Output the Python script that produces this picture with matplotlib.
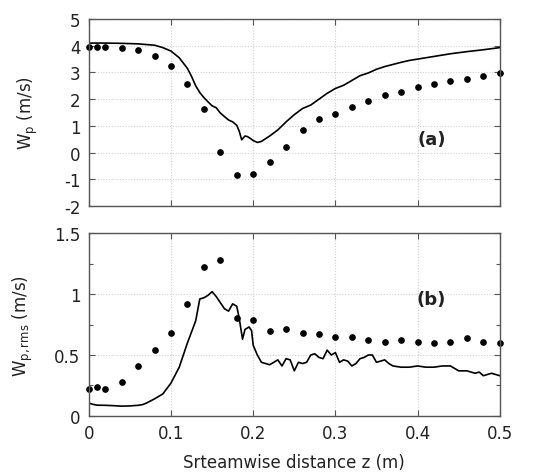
import matplotlib
matplotlib.use("Agg")
import matplotlib.pyplot as plt
from matplotlib.ticker import MultipleLocator

# ---- data (a) ----
za_pts = [0.0, 0.01, 0.02, 0.04, 0.06, 0.08, 0.10, 0.12, 0.14, 0.16, 0.18, 0.20, 0.22, 0.24,
          0.26, 0.28, 0.30, 0.32, 0.34, 0.36, 0.38, 0.40, 0.42, 0.44, 0.46, 0.48, 0.50]
wa_pts = [3.96, 3.96, 3.96, 3.90, 3.84, 3.63, 3.25, 2.55, 1.65, 0.01, -0.84, -0.79, -0.34, 0.22,
          0.84, 1.27, 1.45, 1.69, 1.92, 2.15, 2.26, 2.47, 2.58, 2.67, 2.75, 2.86, 2.99]
za_line = [0.0, 0.02, 0.04, 0.06, 0.08, 0.09, 0.10, 0.11, 0.12, 0.125, 0.13, 0.135, 0.14, 0.145,
           0.15, 0.155, 0.16, 0.165, 0.17, 0.175, 0.18, 0.183, 0.186, 0.19, 0.193, 0.197, 0.20,
           0.205, 0.21, 0.215, 0.22, 0.23, 0.24, 0.25, 0.26, 0.27, 0.28, 0.29, 0.30, 0.31,
           0.32, 0.33, 0.34, 0.35, 0.36, 0.37, 0.38, 0.39, 0.40, 0.42, 0.44, 0.46, 0.48, 0.50]
wa_line = [4.10, 4.10, 4.09, 4.07, 4.02, 3.93, 3.80, 3.55, 3.15, 2.85, 2.50, 2.25, 2.06, 1.90,
           1.75, 1.68, 1.48, 1.35, 1.22, 1.15, 1.02, 0.80, 0.48, 0.62, 0.60, 0.52, 0.45,
           0.38, 0.42, 0.52, 0.62, 0.85, 1.15, 1.42, 1.65, 1.78, 2.00, 2.22, 2.40, 2.52,
           2.70, 2.88, 2.98, 3.12, 3.22, 3.30, 3.38, 3.45, 3.50, 3.60, 3.70, 3.78, 3.85, 3.93]

# ---- data (b) ----
zb_pts = za_pts
wb_pts = [0.22, 0.24, 0.22, 0.28, 0.41, 0.54, 0.68, 0.92, 1.22, 1.28, 0.80, 0.79, 0.70, 0.71,
          0.68, 0.67, 0.65, 0.65, 0.62, 0.61, 0.62, 0.61, 0.60, 0.61, 0.64, 0.61, 0.60]
zb_line = [0.0, 0.005, 0.01, 0.02, 0.03, 0.04, 0.05, 0.06, 0.065, 0.07, 0.08, 0.09, 0.10, 0.11,
           0.12, 0.13, 0.135, 0.14, 0.145, 0.15, 0.155, 0.16, 0.165, 0.17, 0.175, 0.18, 0.183,
           0.187, 0.19, 0.195, 0.198, 0.20, 0.205, 0.21, 0.215, 0.22, 0.225, 0.23, 0.235, 0.24,
           0.245, 0.25, 0.255, 0.26, 0.265, 0.27, 0.275, 0.28, 0.285, 0.29, 0.295, 0.30, 0.305,
           0.31, 0.315, 0.32, 0.325, 0.33, 0.335, 0.34, 0.345, 0.35, 0.355, 0.36, 0.365, 0.37,
           0.38, 0.39, 0.40, 0.41, 0.42, 0.43, 0.44, 0.45, 0.46, 0.47, 0.475, 0.48, 0.49, 0.50]
wb_line = [0.105, 0.095, 0.088, 0.087, 0.084, 0.080, 0.082, 0.087, 0.092, 0.105, 0.14, 0.18, 0.27, 0.40,
           0.60, 0.78, 0.96, 0.97, 0.99, 1.02, 0.98, 0.93, 0.88, 0.86, 0.92, 0.90, 0.80,
           0.63, 0.71, 0.73, 0.70, 0.58, 0.50, 0.44, 0.43, 0.42, 0.44, 0.46, 0.41, 0.47,
           0.46, 0.37, 0.44, 0.43, 0.44, 0.50, 0.51, 0.48, 0.47, 0.54, 0.50, 0.52, 0.44,
           0.46, 0.45, 0.41, 0.43, 0.47, 0.48, 0.50, 0.50, 0.44, 0.45, 0.46, 0.43, 0.41,
           0.40, 0.40, 0.41, 0.40, 0.40, 0.41, 0.41, 0.37, 0.37, 0.35, 0.36, 0.33, 0.35, 0.33]

plt.rcParams['font.family'] = ['DejaVu Sans']
plt.rcParams['axes.unicode_minus'] = False
txt = '#222222'
fig = plt.figure(figsize=(5.45, 4.77), dpi=100)
ax1 = fig.add_axes([0.163, 0.566, 0.754, 0.392])
ax2 = fig.add_axes([0.163, 0.126, 0.754, 0.383])

for ax in (ax1, ax2):
    ax.set_xlim(0, 0.5)
    ax.xaxis.set_major_locator(MultipleLocator(0.1))
    ax.grid(True, which='major', linestyle=(0, (1, 1.5)), color='#cfcfcf', linewidth=0.8)
    ax.tick_params(direction='in', top=True, right=True, length=4, width=0.8,
                   colors='#555555', labelcolor=txt, labelsize=12, pad=6)
    ax.tick_params(which='minor', direction='in', right=True, length=3, width=0.8, colors='#555555')
    for s in ax.spines.values():
        s.set_color('#555555')
        s.set_linewidth(1.0)

ax1.plot(za_line, wa_line, color='black', linewidth=1.2)
ax1.plot(za_pts, wa_pts, 'o', color='black', markersize=3.8, clip_on=False)
ax1.set_ylim(-2, 5)
ax1.yaxis.set_major_locator(MultipleLocator(1))
ax1.set_xticklabels([])
ax1.set_ylabel(r'W$_{\rm p}$ (m/s)', fontsize=12, color=txt)
ax1.yaxis.set_label_coords(-0.12, 0.5)
ax1.text(0.417, 0.5, '(a)', fontsize=13, fontweight='bold', ha='center', va='center', color=txt)

ax2.plot(zb_line, wb_line, color='black', linewidth=1.2)
ax2.plot(zb_pts, wb_pts, 'o', color='black', markersize=3.8, clip_on=False)
ax2.set_ylim(0, 1.5)
ax2.yaxis.set_major_locator(MultipleLocator(0.5))
ax2.yaxis.set_minor_locator(MultipleLocator(0.25))
ax2.set_xticks([0, 0.1, 0.2, 0.3, 0.4, 0.5])
ax2.set_xticklabels(['0', '0.1', '0.2', '0.3', '0.4', '0.5'])
ax2.set_yticks([0, 0.5, 1.0, 1.5])
ax2.set_yticklabels(['0', '0.5', '1', '1.5'])
ax2.set_ylabel(r'W$_{\rm p,rms}$ (m/s)', fontsize=12, color=txt)
ax2.yaxis.set_label_coords(-0.132, 0.5)
ax2.set_xlabel('Srteamwise distance z (m)', fontsize=12, color=txt, labelpad=8)
ax2.text(0.417, 0.96, '(b)', fontsize=13, fontweight='bold', ha='center', va='center', color=txt)

fig.savefig('out.png', dpi=100)
